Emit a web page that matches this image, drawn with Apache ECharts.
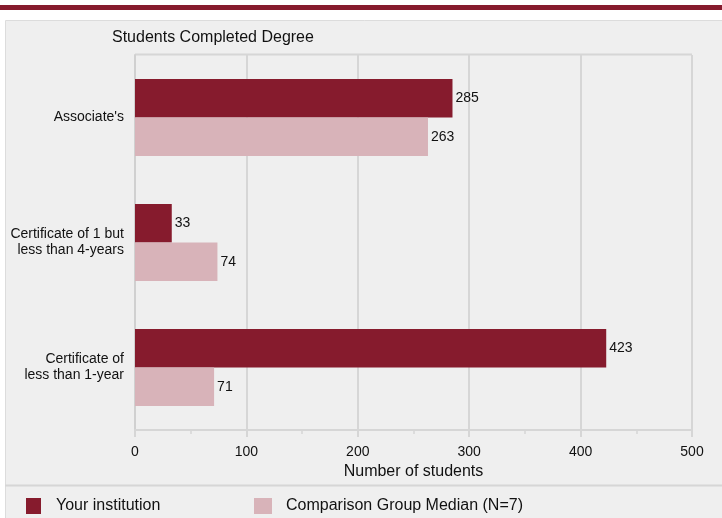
<!DOCTYPE html>
<html><head><meta charset="utf-8">
<script src="https://cdn.jsdelivr.net/npm/echarts@6/dist/echarts.min.js"></script>
<style>html,body{margin:0;padding:0;background:#fff}#c{width:722px;height:518px}</style>
</head><body><div id="c"></div>
<script>
const categories = ["Associate's", "Certificate of 1 but\nless than 4-years", "Certificate of\nless than 1-year"];
const yourInstitution = [285, 33, 423];
const comparisonMedian = [263, 74, 71];
const seriesNames = ["Your institution", "Comparison Group Median (N=7)"];
const xTicks = {min: 0, max: 500, interval: 100};

const chart = echarts.init(document.getElementById('c'));
const font = 'Liberation Sans, Arial, sans-serif';
chart.setOption({
  animation: false,
  textStyle: {fontFamily: font},
  graphic: [
    {type: 'rect', shape: {x: 0, y: 5, width: 722, height: 5}, style: {fill: '#861b2d'}, z: -1},
    {type: 'rect', shape: {x: 5.5, y: 20.5, width: 730, height: 520}, style: {fill: '#efefef', stroke: '#dcdcdc', lineWidth: 1}, z: -10},
    {type: 'line', shape: {x1: 5, y1: 485.5, x2: 722, y2: 485.5}, style: {stroke: '#d6d6d6', lineWidth: 2}, z: -5},
    {type: 'line', shape: {x1: 135, y1: 54.5, x2: 692, y2: 54.5}, style: {stroke: '#d6d6d6', lineWidth: 2}, z: -5}
  ],
  title: {text: 'Students Completed Degree', left: 107, top: 25, textStyle: {fontSize: 16, fontWeight: 'normal', color: '#111', fontFamily: font}},
  legend: [
    {data: [seriesNames[0]], left: 21, top: 493, itemWidth: 15, itemHeight: 16, icon: 'rect',
     textStyle: {fontSize: 16, color: '#111', padding: [0, 0, 0, 10]}},
    {data: [seriesNames[1]], left: 249, top: 493, itemWidth: 18, itemHeight: 16, icon: 'rect',
     textStyle: {fontSize: 16, color: '#111', padding: [0, 0, 0, 9]}}
  ],
  grid: {left: 135, right: 30, top: 55, bottom: 88, containLabel: false},
  xAxis: {
    type: 'value', min: xTicks.min, max: xTicks.max, interval: xTicks.interval,
    name: 'Number of students', nameLocation: 'middle', nameGap: 34,
    nameTextStyle: {fontSize: 16, color: '#111'},
    axisLine: {show: true, lineStyle: {color: '#d6d6d6', width: 2}},
    axisTick: {show: true, length: 7, lineStyle: {color: '#d6d6d6', width: 2}},
    minorTick: {show: true, splitNumber: 2, length: 4, lineStyle: {color: '#d6d6d6', width: 1.5}},
    axisLabel: {fontSize: 14, color: '#111', margin: 15},
    splitLine: {show: true, lineStyle: {color: '#d6d6d6', width: 2}}
  },
  yAxis: {
    type: 'category', data: categories, inverse: true,
    axisLine: {show: true, lineStyle: {color: '#d0d0d0', width: 2}},
    axisTick: {show: false},
    axisLabel: {fontSize: 14, color: '#111', margin: 11, lineHeight: 16, align: 'right'}
  },
  series: [
    {name: seriesNames[0], type: 'bar', data: yourInstitution, barGap: '0%', barCategoryGap: '38.5%',
     itemStyle: {color: '#861b2d'}, label: {show: true, position: 'right', distance: 3, fontSize: 14, color: '#111'}},
    {name: seriesNames[1], type: 'bar', data: comparisonMedian,
     itemStyle: {color: '#d8b3b9'}, label: {show: true, position: 'right', distance: 3, fontSize: 14, color: '#111'}}
  ]
});
</script></body></html>
